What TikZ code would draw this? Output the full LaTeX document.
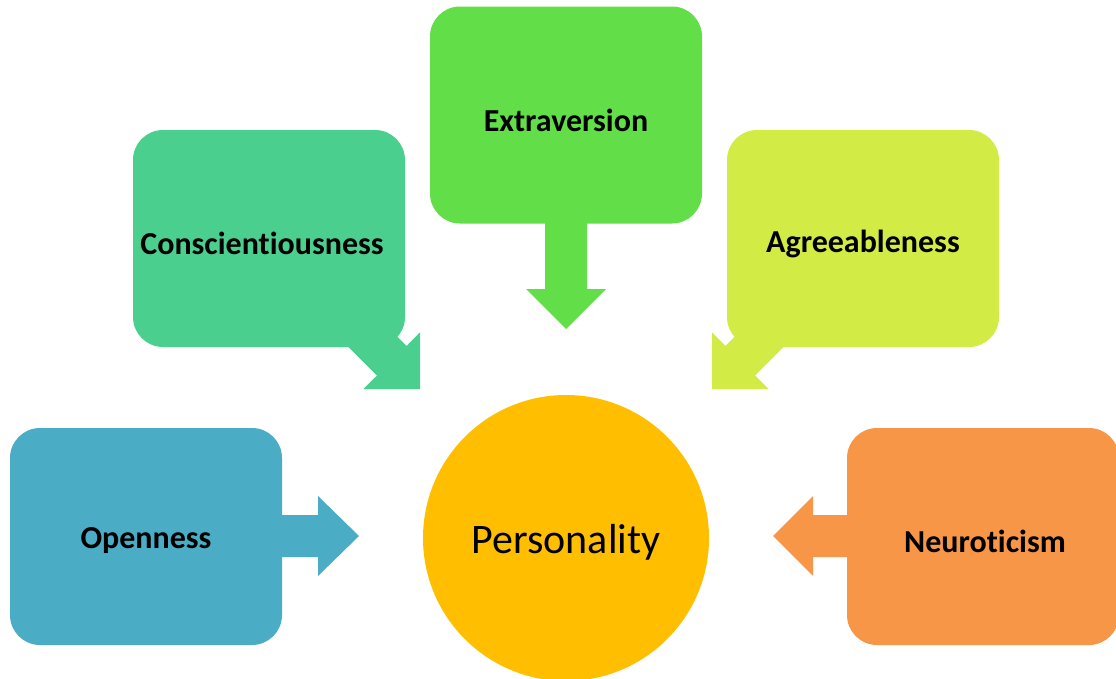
\documentclass[tikz,border=0pt]{standalone}
\usepackage{fontspec}
\setmainfont{Carlito}[Ligatures=NoCommon]
\definecolor{copen}{HTML}{4BACC6}
\definecolor{ccons}{HTML}{4ACF8E}
\definecolor{cextra}{HTML}{61DE48}
\definecolor{cagree}{HTML}{D3EC45}
\definecolor{cneuro}{HTML}{F79646}
\definecolor{cpers}{HTML}{FFBF00}
\begin{document}
\begin{tikzpicture}[x=1pt,y=-1pt,
  trait/.style={rectangle,rounded corners=30pt,minimum width=272pt,minimum height=217pt,inner sep=0pt},
  lbl/.style={font=\fontsize{32}{38}\selectfont\bfseries,text=black,inner sep=0pt}]
\useasboundingbox (0,0) rectangle (1116,678);
% circle
\node[circle,fill=cpers,minimum size=286pt,inner sep=0pt] (pers) at (566,538) {};
% boxes
\node[trait,fill=copen] (open) at (146,536.5) {};
\node[trait,fill=ccons] (cons) at (269,238.5) {};
\node[trait,fill=cextra] (extra) at (566,115) {};
\node[trait,fill=cagree] (agree) at (863,238.5) {};
\node[trait,fill=cneuro] (neuro) at (983,536.5) {};
% arrows
\fill[copen] (270,515) -- (318,515) -- (318,496) -- (359,536) -- (318,576) -- (318,557) -- (270,557) -- cycle;
\fill[cneuro] (862,515) -- (813,515) -- (813,496) -- (773,536) -- (813,576) -- (813,557) -- (862,557) -- cycle;
\fill[cextra] (545,210) -- (587,210) -- (587,289) -- (606,289) -- (566,329) -- (526,289) -- (545,289) -- cycle;
\fill[ccons] (364.2,303.5) -- (406.6,345.9) -- (420,332.4) -- (420,389) -- (363.4,389) -- (376.9,375.6) -- (334.5,333.2) -- cycle;
\fill[cagree] (767.8,303.5) -- (725.4,345.9) -- (712,332.4) -- (712,389) -- (768.6,389) -- (755.1,375.6) -- (797.5,333.2) -- cycle;
% labels
\node[font=\fontsize{42}{50}\selectfont,inner sep=0pt] (tpers) at (566,542) {Personality};
\node[lbl] (topen) at (146,541) {Openness};
\node[lbl] (tcons) at (262,243) {Conscientiousness};
\node[lbl] (textra) at (566,120) {Extraversion};
\node[lbl] (tagree) at (863,244) {Agreeableness};
\node[lbl] (tneuro) at (985,541) {Neuroticism};
\end{tikzpicture}
\end{document}
